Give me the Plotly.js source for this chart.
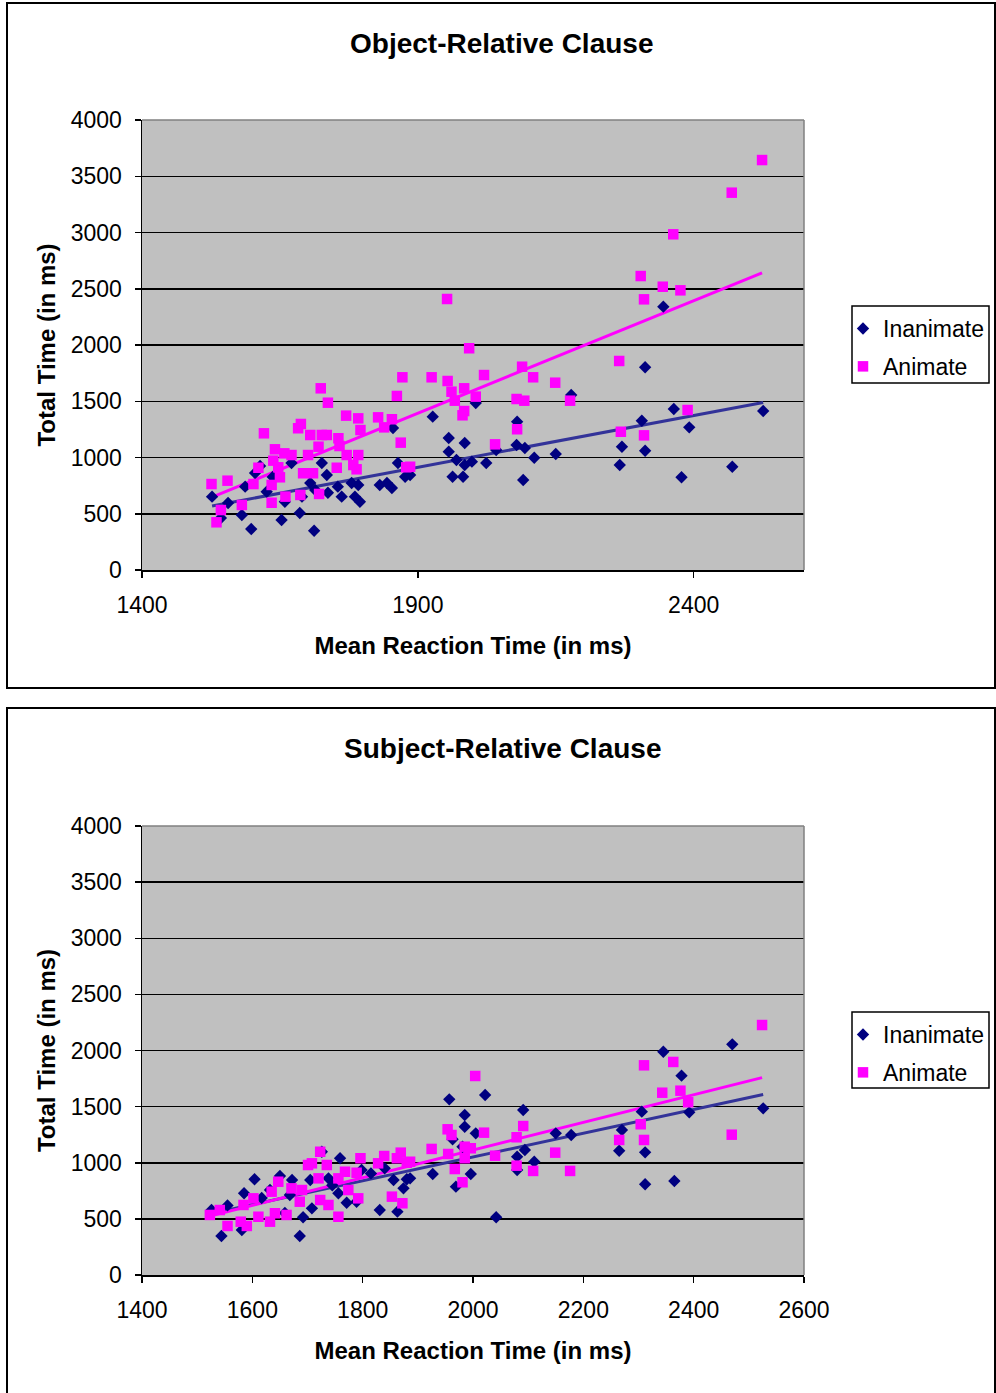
<!DOCTYPE html>
<html>
<head>
<meta charset="utf-8">
<script src="https://cdn.plot.ly/plotly-3.0.1.min.js"></script>
<style>
html,body{margin:0;padding:0;background:#fff;}
#chart{width:996px;height:1393px;}
</style>
</head>
<body>
<div id="chart"></div>
<script>
// ---------- DATA ----------
const objTitle = "Object-Relative Clause";
const subjTitle = "Subject-Relative Clause";
const seriesNames = ["Inanimate", "Animate"];

// Object-relative clause
const objInanimateX = [1527,1543,1556,1581,1587,1598,1605,1614,1626,1637,1653,1659,1671,1686,1690,1712,1705,1714,1726,1735,1737,1755,1762,1780,1786,1792,1795,1831,1844,1853,1855,1864,1877,1886,1927,1956,1956,1970,1963,1982,1985,1985,1998,2005,2024,2042,2080,2079,2094,2091,2111,2150,2178,2266,2270,2306,2312,2312,2345,2364,2378,2392,2470,2526];
const objInanimateY = [652,462,596,489,741,364,862,924,696,827,444,607,951,507,652,349,773,711,951,844,687,741,652,773,652,756,607,756,773,729,1262,951,829,844,1363,1173,1052,978,829,829,1129,933,963,1484,951,1067,1318,1111,1084,800,998,1031,1556,933,1096,1327,1802,1060,2341,1431,824,1268,918,1413];

const objAnimateX = [1526,1555,1535,1543,1581,1602,1611,1621,1635,1635,1641,1638,1647,1650,1658,1660,1671,1683,1688,1687,1701,1705,1692,1710,1720,1721,1724,1726,1735,1737,1756,1758,1753,1770,1771,1783,1792,1796,1792,1789,1828,1853,1839,1862,1872,1869,1879,1925,1993,1954,1961,1984,1967,2005,2020,1984,1981,2040,2089,2109,2079,2093,2080,2149,2176,2524,2469,2363,2304,2344,2376,2310,2265,2389,2268,2310,1953,1886];
const objAnimateY = [764,794,424,533,578,764,909,1215,598,756,1073,972,913,824,1037,652,1022,1260,1298,667,1022,1200,860,860,1096,676,1615,1200,1200,1487,1171,1102,909,1372,1022,933,1348,1244,1022,895,1357,1340,1268,1547,1713,1132,913,1713,1971,1680,1585,1615,1505,1541,1733,1413,1375,1117,1807,1713,1520,1505,1251,1665,1505,3644,3354,2984,2613,2518,2486,2406,1858,1422,1229,1197,2409,918];

// Subject-relative clause
const subjInanimateX = [1526,1544,1581,1585,1604,1650,1672,1692,1686,1705,1708,1726,1738,1759,1756,1771,1789,1798,1831,1856,1863,1874,1880,1659,1886,1927,1957,1963,1969,1985,1985,1981,1996,2005,2022,2042,2091,2080,2094,2080,2111,2150,2178,2265,2270,2306,2312,2312,2345,2378,2392,2365,2470,2526,1555,1617,1632,1668,1745,1815,1840];
const subjInanimateY = [579,347,401,728,853,882,846,514,347,846,594,1098,861,1040,728,644,653,935,579,846,564,772,853,552,861,900,1565,1209,787,1425,1321,1143,900,1262,1604,514,1470,1054,1114,935,1009,1262,1247,1107,1292,1455,1093,808,1989,1776,1449,837,2055,1485,620,686,757,713,800,905,950];

const subjAnimateX = [1523,1541,1555,1579,1590,1584,1602,1611,1632,1635,1647,1641,1662,1671,1690,1686,1701,1708,1723,1720,1723,1735,1738,1756,1756,1768,1789,1792,1774,1796,1828,1839,1853,1862,1869,1880,1872,1886,1925,1954,1961,1955,1967,1981,1985,1996,1985,2004,2020,2040,2079,2091,2079,2109,2149,2176,2310,2363,2343,2376,2390,2304,2265,2310,2469,2524];
const subjAnimateY = [535,579,437,475,437,624,683,519,475,742,831,550,535,772,757,653,980,995,1098,861,668,980,624,519,861,920,911,683,757,1040,995,1060,698,1040,1090,1000,639,1009,1123,1298,1247,1078,944,826,1143,1129,1040,1773,1268,1063,1227,1327,974,927,1090,927,1868,1898,1624,1642,1539,1343,1203,1203,1250,2227];

const yTicks = [0,500,1000,1500,2000,2500,3000,3500,4000];
const objXTicks = [1400,1900,2400];
const subjXTicks = [1400,1600,1800,2000,2200,2400,2600];

// ---------- HELPERS ----------
const W = 996, H = 1393;
const fx = p => p / W;
const fy = p => 1 - p / H;
const FONT = "Liberation Sans, Arial, sans-serif";
const NAVY = "#000080", PINK = "#ff00ff", NAVYLINE = "#333399";

function trend(xs, ys) {
  const n = xs.length;
  let sx=0, sy=0, sxx=0, sxy=0;
  for (let i=0;i<n;i++){ sx+=xs[i]; sy+=ys[i]; sxx+=xs[i]*xs[i]; sxy+=xs[i]*ys[i]; }
  const b = (n*sxy - sx*sy)/(n*sxx - sx*sx);
  const a = (sy - b*sx)/n;
  const x0 = Math.min(...xs), x1 = Math.max(...xs);
  return {x:[x0,x1], y:[a+b*x0, a+b*x1]};
}

function pts(xs, ys, name, color, symbol, size, xa, ya, leg) {
  return {type:"scatter", mode:"markers", x:xs, y:ys, name:name, xaxis:xa, yaxis:ya, legend:leg,
    legendgroup: name+leg,
    marker:{color:color, symbol:symbol, size:size, line:{width:0}}, cliponaxis:false};
}
function tline(xs, ys, color, xa, ya) {
  const t = trend(xs, ys);
  return {type:"scatter", mode:"lines", x:t.x, y:t.y, xaxis:xa, yaxis:ya, showlegend:false,
    line:{color:color, width:3}, hoverinfo:"skip"};
}

const traces = [
  tline(objInanimateX, objInanimateY, NAVYLINE, "x", "y"),
  tline(objAnimateX, objAnimateY, PINK, "x", "y"),
  pts(objInanimateX, objInanimateY, seriesNames[0], NAVY, "diamond", 9.5, "x", "y", "legend"),
  pts(objAnimateX, objAnimateY, seriesNames[1], PINK, "square", 10.5, "x", "y", "legend"),
  tline(subjInanimateX, subjInanimateY, NAVYLINE, "x2", "y2"),
  tline(subjAnimateX, subjAnimateY, PINK, "x2", "y2"),
  pts(subjInanimateX, subjInanimateY, seriesNames[0], NAVY, "diamond", 9.5, "x2", "y2", "legend2"),
  pts(subjAnimateX, subjAnimateY, seriesNames[1], PINK, "square", 10.5, "x2", "y2", "legend2")
];

function xAxis(ticks, anchor) {
  return {
    domain:[fx(142), fx(804)], anchor:anchor, range:[1400,2600], tickmode:"array", tickvals:ticks,
    ticks:"outside", ticklen:6, tickwidth:1.5, tickcolor:"#000", showline:true, linecolor:"#000", linewidth:1.5,
    showgrid:false, zeroline:false, automargin:false, ticklabelstandoff:8,
    tickfont:{family:FONT, size:23, color:"#000"},
    title:{text:"Mean Reaction Time (in ms)", standoff:20, font:{family:FONT, size:24, color:"#000", weight:"bold"}}
  };
}
function yAxis(anchor, top, bottom) {
  return {
    domain:[fy(bottom), fy(top)], anchor:anchor, range:[0,4000], tickmode:"array", tickvals:yTicks,
    ticks:"outside", ticklen:6, tickwidth:1.5, tickcolor:"#000", showline:true, linecolor:"#000", linewidth:1.5,
    showgrid:true, gridcolor:"#000", gridwidth:1.5, zeroline:false, automargin:false, ticklabelstandoff:8,
    tickfont:{family:FONT, size:23, color:"#000"},
    title:{text:"Total Time (in ms)", standoff:8, font:{family:FONT, size:24, color:"#000", weight:"bold"}}
  };
}
function legendAt(topPx) {
  return {x:fx(843), y:fy(topPx+1), xanchor:"left", yanchor:"top", bgcolor:"rgba(0,0,0,0)", borderwidth:0,
    font:{family:FONT, size:23, color:"#000"}, traceorder:"grouped", tracegroupgap:5, itemwidth:30};
}
function legendBox(top, bottom) {
  return {type:"rect", xref:"paper", yref:"paper", x0:fx(852), x1:fx(989), y0:fy(bottom), y1:fy(top),
    line:{color:"#000", width:1.5}, fillcolor:"rgba(0,0,0,0)", layer:"above"};
}
function frame(top, bottom) {
  return {type:"rect", xref:"paper", yref:"paper", x0:fx(7), x1:fx(995), y0:fy(bottom), y1:fy(top),
    line:{color:"#000", width:2}, fillcolor:"rgba(0,0,0,0)", layer:"above"};
}
function plotBorder(xa, ya) {
  return [
    {type:"line", xref:xa+" domain", yref:ya+" domain", x0:0, x1:1, y0:1, y1:1, line:{color:"#808080", width:1.5}, layer:"above"},
    {type:"line", xref:xa+" domain", yref:ya+" domain", x0:1, x1:1, y0:0, y1:1, line:{color:"#808080", width:1.5}, layer:"above"}
  ];
}

const layout = {
  width:W, height:H, margin:{l:0,r:0,t:0,b:0}, paper_bgcolor:"#fff", plot_bgcolor:"#c0c0c0",
  font:{family:FONT, color:"#000"}, showlegend:true, hovermode:false,
  xaxis: xAxis(objXTicks, "y"), yaxis: yAxis("x", 120, 570),
  xaxis2: xAxis(subjXTicks, "y2"), yaxis2: yAxis("x2", 826, 1275),
  legend: legendAt(306), legend2: legendAt(1012),
  annotations:[
    {text:objTitle, xref:"paper", yref:"paper", x:fx(501), y:fy(43), xanchor:"center", yanchor:"middle", showarrow:false,
      font:{family:FONT, size:28, color:"#000", weight:"bold"}},
    {text:subjTitle, xref:"paper", yref:"paper", x:fx(502), y:fy(748), xanchor:"center", yanchor:"middle", showarrow:false,
      font:{family:FONT, size:28, color:"#000", weight:"bold"}}
  ],
  shapes:[frame(3,688), frame(708,1396), legendBox(306,383), legendBox(1012,1088)].concat(plotBorder("x","y"), plotBorder("x2","y2"))
};

Plotly.newPlot("chart", traces, layout, {staticPlot:true, displayModeBar:false});
</script>
</body>
</html>
